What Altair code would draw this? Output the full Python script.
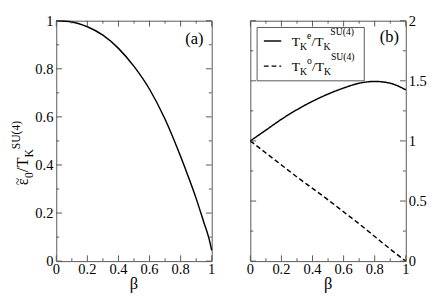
import altair as alt
import pandas as pd

# ---------------- data ----------------
beta_a = [0.0, 0.1, 0.2, 0.3, 0.4, 0.5, 0.6, 0.7, 0.8, 0.85, 0.9, 0.95, 0.98, 1.0]
eps_a = [1.0, 0.995, 0.975, 0.94, 0.885, 0.81, 0.715, 0.59, 0.435, 0.35, 0.26, 0.16, 0.10, 0.045]

beta_b = [0.0, 0.1, 0.2, 0.3, 0.4, 0.5, 0.6, 0.7, 0.8, 0.9, 1.0]
even_b = [1.0, 1.09, 1.18, 1.26, 1.33, 1.39, 1.44, 1.48, 1.495, 1.48, 1.425]
odd_b = [1.0, 0.9, 0.8, 0.7, 0.605, 0.51, 0.41, 0.31, 0.205, 0.1, 0.0]

x_major = [0, 0.2, 0.4, 0.6, 0.8, 1]
x_labels = ["0", "0.2", "0.4", "0.6", "0.8", "1"]
x_minor = [0.1, 0.3, 0.5, 0.7, 0.9]
ya_major = [0, 0.2, 0.4, 0.6, 0.8, 1]
ya_labels = ["0", "0.2", "0.4", "0.6", "0.8", "1"]
ya_minor = [0.1, 0.3, 0.5, 0.7, 0.9]
yb_major = [0, 0.5, 1, 1.5, 2]
yb_labels = ["0", "0.5", "1", "1.5", "2"]
yb_minor = [0.25, 0.75, 1.25, 1.75]

x_title = "β"
ylab_parts = ["~", "ε", "0", "/T", "K", "SU(4)"]
ylab_roles = ["acc", "main", "sub", "main", "sub", "sup"]
leg_e_parts = ["T", "K", "e", "/T", "K", "SU(4)"]
leg_o_parts = ["T", "K", "o", "/T", "K", "SU(4)"]
leg_roles = ["main", "sub", "sup", "main", "sub", "sup2"]
panel_tags = ["(a)", "(b)"]

# ---------------- styles ----------------
W, H = 161, 249
FONT = "Liberation Serif"
INK = "#000000"
FRAME = "#555555"
LAB = 15

CHARW = {'T': 611, 'K': 722, 'e': 444, 'o': 500, '/': 278, 'S': 556, 'U': 722,
         '(': 333, ')': 333, '4': 500, '0': 500, 'ε': 439, '~': 0}


def text_width(s, size):
    return sum(CHARW.get(c, 500) for c in s) * size / 1000.0


def rich_text(parts, roles, x0, y0, style, angle=0):
    layers = []
    pos = 0.0
    for p, r in zip(parts, roles):
        size, shift = style[r]
        if angle == 0:
            x, y = x0 + pos, y0 + shift
        else:
            x, y = x0 + shift, y0 - pos
        layers.append(
            alt.Chart(pd.DataFrame({"s": [p]}))
            .mark_text(font=FONT, fontSize=size, align="left", baseline="alphabetic",
                       angle=angle, color=INK)
            .encode(x=alt.value(x), y=alt.value(y), text="s:N")
        )
        pos += text_width(p, size)
    return layers


def tick_layers(xmaj, xmin, ymaj, ymin, xs, ys):
    layers = []
    for xv, yv, L in [(xmaj, ymaj, 6), (xmin, ymin, 3)]:
        bx = alt.Chart(pd.DataFrame({"t": xv})).mark_rule(color=FRAME, strokeWidth=1)
        by = alt.Chart(pd.DataFrame({"t": yv})).mark_rule(color=FRAME, strokeWidth=1)
        xe = alt.X("t:Q", scale=xs, axis=None)
        ye = alt.Y("t:Q", scale=ys, axis=None)
        layers += [
            bx.encode(x=xe, y=alt.value(H), y2=alt.value(H - L)),
            bx.encode(x=xe, y=alt.value(0), y2=alt.value(L)),
            by.encode(y=ye, x=alt.value(0), x2=alt.value(L)),
            by.encode(y=ye, x=alt.value(W), x2=alt.value(W - L)),
        ]
    return layers


def x_label_layers(xs):
    labs = (alt.Chart(pd.DataFrame({"t": x_major, "lab": x_labels}))
            .mark_text(font=FONT, fontSize=LAB, align="center", baseline="top", color=INK)
            .encode(x=alt.X("t:Q", scale=xs, axis=None), y=alt.value(H + 1), text="lab:N"))
    title = (alt.Chart(pd.DataFrame({"s": [x_title]}))
             .mark_text(font=FONT, fontSize=17, align="center", baseline="middle", color=INK)
             .encode(x=alt.value(W / 2), y=alt.value(H + 24), text="s:N"))
    return [labs, title]


def y_label_layer(vals, labs, ys, side):
    if side == "left":
        mk = dict(align="right")
        xv = -3
    else:
        mk = dict(align="left")
        xv = W + 3
    return (alt.Chart(pd.DataFrame({"t": vals, "lab": labs}))
            .mark_text(font=FONT, fontSize=LAB, baseline="middle", color=INK, **mk)
            .encode(y=alt.Y("t:Q", scale=ys, axis=None), x=alt.value(xv), text="lab:N"))


def tag(label, x, y):
    return (alt.Chart(pd.DataFrame({"s": [label]}))
            .mark_text(font=FONT, fontSize=17, align="center", baseline="middle", color=INK)
            .encode(x=alt.value(x), y=alt.value(y), text="s:N"))


# ---------------- panel (a) ----------------
xs_a = alt.Scale(domain=[0, 1], nice=False, zero=False)
ys_a = alt.Scale(domain=[0, 1], nice=False, zero=False)
df_a = pd.DataFrame({"beta": beta_a, "eps": eps_a})

line_a = alt.Chart(df_a).mark_line(color=INK, strokeWidth=1.5, interpolate="monotone").encode(
    x=alt.X("beta:Q", scale=xs_a, axis=None),
    y=alt.Y("eps:Q", scale=ys_a, axis=None),
)

title_style = {"main": (17, 0), "acc": (14, -7), "sub": (12, 5), "sup": (12, -9)}
title_len = sum(text_width(p, title_style[r][0]) for p, r in zip(ylab_parts, ylab_roles))
title_layers = rich_text(ylab_parts, ylab_roles, -29, 137 + title_len / 2, title_style, angle=270)

panel_a = alt.layer(
    line_a,
    *tick_layers(x_major, x_minor, ya_major, ya_minor, xs_a, ys_a),
    *x_label_layers(xs_a),
    y_label_layer(ya_major, ya_labels, ys_a, "left"),
    *title_layers,
    tag(panel_tags[0], 143, 19),
).properties(width=W, height=H)

# ---------------- panel (b) ----------------
xs_b = alt.Scale(domain=[0, 1], nice=False, zero=False)
ys_b = alt.Scale(domain=[0, 2], nice=False, zero=False)
df_b = pd.concat([
    pd.DataFrame({"beta": beta_b, "val": even_b, "series": "even"}),
    pd.DataFrame({"beta": beta_b, "val": odd_b, "series": "odd"}),
])

line_b = alt.Chart(df_b).mark_line(color=INK, strokeWidth=1.5, interpolate="monotone").encode(
    x=alt.X("beta:Q", scale=xs_b, axis=None),
    y=alt.Y("val:Q", scale=ys_b, axis=None),
    strokeDash=alt.StrokeDash("series:N", scale=alt.Scale(domain=["even", "odd"], range=[[1, 0], [5, 3]]),
                              legend=None),
    detail="series:N",
)

leg_box = alt.Chart(pd.DataFrame({"k": [0]})).mark_rect(fill="white", stroke=FRAME, strokeWidth=1).encode(
    x=alt.value(7), x2=alt.value(118), y=alt.value(7), y2=alt.value(H / 4))
leg_line_e = alt.Chart(pd.DataFrame({"k": [0]})).mark_rule(color=INK, strokeWidth=1.5).encode(
    x=alt.value(14), x2=alt.value(32), y=alt.value(21))
leg_line_o = alt.Chart(pd.DataFrame({"k": [0]})).mark_rule(color=INK, strokeWidth=1.5, strokeDash=[5, 3]).encode(
    x=alt.value(14), x2=alt.value(32), y=alt.value(47))

leg_style = {"main": (14, 0), "sub": (10, 4), "sup": (10, -7), "sup2": (10, -11)}
leg_layers = (rich_text(leg_e_parts, leg_roles, 43, 26, leg_style)
              + rich_text(leg_o_parts, leg_roles, 43, 52, leg_style))

panel_b = alt.layer(
    line_b,
    *tick_layers(x_major, x_minor, yb_major, yb_minor, xs_b, ys_b),
    *x_label_layers(xs_b),
    y_label_layer(yb_major, yb_labels, ys_b, "right"),
    leg_box, leg_line_e, leg_line_o,
    *leg_layers,
    tag(panel_tags[1], 144, 17),
).properties(width=W, height=H)

chart = alt.hconcat(panel_a, panel_b, spacing=30, padding={"left": 1, "top": 0, "right": 0, "bottom": 0}
).configure_view(stroke=FRAME, strokeWidth=1)

chart.save("out.html", embed_options={"renderer": "svg", "actions": False})
